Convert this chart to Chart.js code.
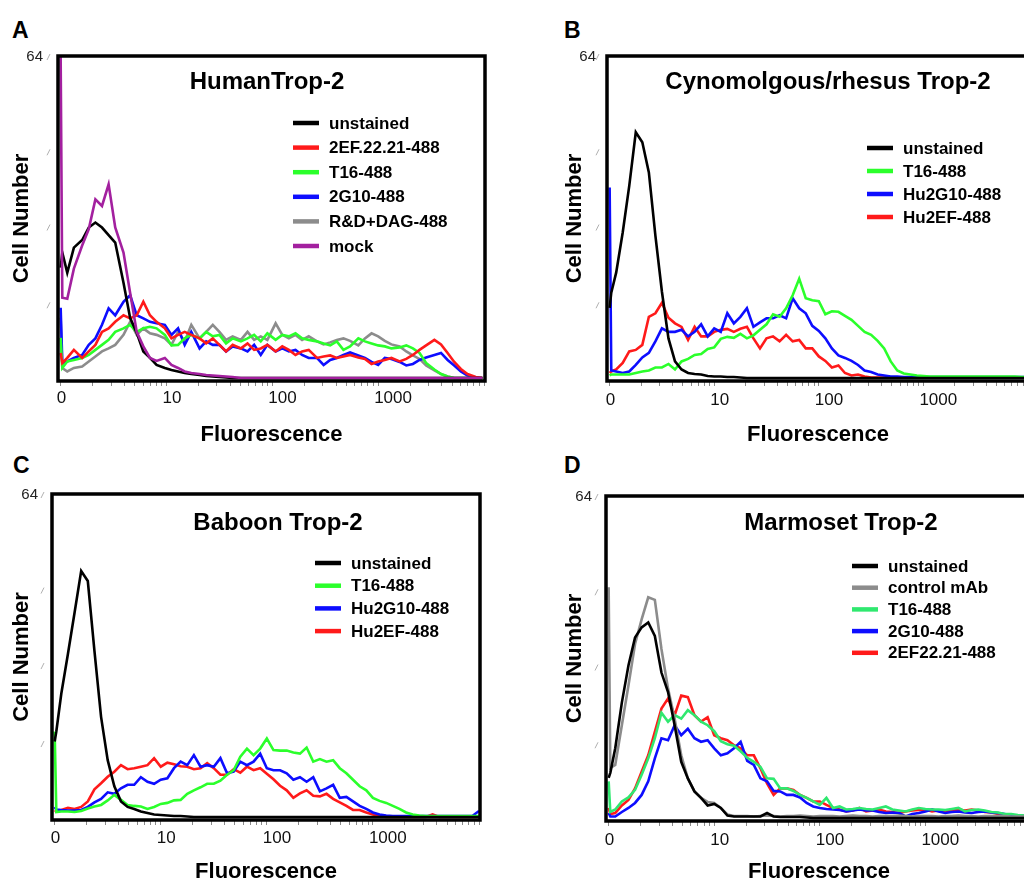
<!DOCTYPE html>
<html>
<head>
<meta charset="utf-8">
<title>Trop-2 flow cytometry</title>
<script src="https://cdn.jsdelivr.net/npm/chart.js@4.4.1/dist/chart.umd.min.js"></script>
<style>
  html, body { margin: 0; padding: 0; background: #fff; }
  body { width: 1024px; height: 881px; overflow: hidden; position: relative; font-family: "Liberation Sans", Arial, sans-serif; }
  canvas { position: absolute; }
  .tag { position: absolute; font-weight: bold; font-size: 23px; line-height: 22px; color: #000; }
</style>
</head>
<body>
<div class="tag" style="left:12px;top:19px">A</div>
<div class="tag" style="left:564px;top:19px">B</div>
<div class="tag" style="left:13px;top:454px">C</div>
<div class="tag" style="left:564px;top:454px">D</div>
<canvas id="panelA" width="512" height="450" style="left:0px;top:0px"></canvas>
<canvas id="panelB" width="507" height="450" style="left:549px;top:0px"></canvas>
<canvas id="panelC" width="513" height="450" style="left:-6px;top:440px"></canvas>
<canvas id="panelD" width="511" height="450" style="left:548px;top:440px"></canvas>
<script>
Chart.defaults.font.family = '"Liberation Sans", Arial, sans-serif';
var FONT = Chart.defaults.font.family;

// x = cytometer channel, 64 channels per decade (0 .. 10^4)
var chA = [0, 1, 4, 8, 13, 17, 21, 25, 29, 33, 38, 42, 46, 50, 54, 58, 63, 67, 71, 75, 79,
  84, 88, 92, 96, 100, 104, 109, 113, 117, 121, 125, 130, 134, 138, 142, 146, 150, 155, 159,
  163, 167, 171, 175, 180, 184, 188, 192, 196, 200, 205, 209, 213, 217, 221, 226, 230, 234,
  238, 242, 246, 251, 255];
var chGrid = [0, 1, 4, 8, 12, 16, 20, 24, 28, 32, 36, 40, 44, 48, 52, 56, 60, 64, 68, 72, 76,
  80, 84, 88, 92, 96, 100, 104, 108, 112, 116, 120, 124, 128, 132, 136, 140, 144, 148, 152,
  156, 160, 164, 168, 172, 176, 180, 184, 188, 192, 196, 200, 204, 208, 212, 216, 220, 224,
  228, 232, 236, 240, 244, 248, 252, 256];

var xMajor = [0, 64, 128, 192];
var xTickLabels = ['0', '10', '100', '1000'];
var yTicks = [64];
var yTickLabels = ['64'];
var yMarks = [14.5, 30, 45, 64];

// A - HumanTrop-2
var aUnstained = [22, 25,
  21, 26, 27.5, 30, 31, 30, 28.5, 27, 19, 12,
  9, 5.3, 4, 2.6, 2, 1.6, 1.3, 1, 0.8, 0.6,
  0.4, 0.3, 0.2, 0.1, 0, 0, 0, 0, 0, 0,
  0, 0, 0, 0, 0, 0, 0, 0, 0, 0,
  0, 0, 0, 0, 0, 0, 0, 0, 0, 0,
  0, 0, 0, 0, 0, 0, 0, 0, 0, 0,
  0];
var a2EF = [5, 3,
  4, 5.6, 4, 5.3, 6.6, 9.2, 9.9, 11.2, 12.5, 11.9,
  12.5, 15.2, 12.5, 11.2, 9.9, 7.9, 8.6, 9.2, 8.6, 7.9,
  6.9, 7.9, 6.6, 5.3, 6.6, 5.9, 6.9, 5.6, 5.9, 6.6,
  5.3, 6.3, 5.6, 4.6, 5.3, 5.6, 4, 4.3, 4.5, 4,
  4.3, 4.6, 4.1, 3.8, 2.8, 3.3, 3.6, 4, 3.3, 3.8,
  4.6, 5.6, 6.5, 7.6, 6.7, 5, 3.2, 1.8, 0.8, 0.2,
  0];
var aT16 = [8, 2,
  3.3, 3.6, 4, 4.6, 5.6, 6.6, 7.6, 9.2, 9.9, 10.6,
  9.2, 9.9, 10.2, 9.9, 8.6, 6.5, 6.6, 7.9, 8.6, 7.9,
  9.2, 8.3, 8.6, 6.9, 7.9, 7.3, 7.9, 8.6, 7.3, 8.9,
  7.6, 8.6, 8.3, 8.9, 7.9, 7.6, 7.3, 6.9, 6.5, 7.3,
  5.6, 6.3, 7.9, 7.3, 6.9, 6.5, 6.3, 5.9, 6.1, 6.5,
  5.9, 5, 3, 1.7, 0.8, 0.3, 0, 0, 0, 0,
  0];
var a2G10 = [14, 3,
  3.3, 4, 4.6, 6.6, 7.9, 10.6, 13.9, 12.5, 15.2, 16.5,
  12.5, 11.9, 11.2, 10.9, 10.6, 8.6, 9.9, 6.6, 9.2, 5.9,
  7.3, 6.6, 6.6, 5.3, 6.3, 5.9, 5.3, 6.6, 4.6, 6.6,
  5.3, 5.9, 5.3, 5.6, 4.6, 4, 4, 2.6, 3.6, 4,
  4.6, 5.1, 4.5, 4, 3.2, 2.6, 4, 3.8, 3.2, 2.5,
  2.8, 3.6, 4.1, 4.6, 5, 3.6, 2.5, 1.3, 0.5, 0.1,
  0];
var aRnD = [12, 2,
  1.3, 2, 2.3, 3.3, 4.3, 5.3, 5.9, 6.6, 8.6, 11.2,
  8.6, 9.9, 8.9, 8.6, 7.9, 6.6, 9.2, 7.3, 10.6, 7.9,
  9.2, 10.6, 9.2, 7.6, 8.3, 7.6, 9.2, 7.6, 8.3, 7.6,
  10.9, 8.6, 7.9, 8.6, 7.6, 8.3, 7.3, 6.7, 7.1, 7.6,
  7.9, 7.4, 6.5, 7.9, 8.9, 8.3, 7.4, 6.7, 6.3, 5.3,
  4.5, 3.8, 2.5, 1.5, 0.8, 0.3, 0, 0, 0, 0,
  0];
var aMock = [64, 16,
  15.8, 21.8, 26.4, 29.7, 35.6, 34.3, 38.6, 30, 25, 17,
  9.2, 6.3, 4, 3.4, 4, 2.6, 2, 1.3, 1, 0.8,
  0.6, 0.5, 0.4, 0.3, 0.2, 0, 0, 0, 0, 0,
  0, 0, 0, 0, 0, 0, 0, 0, 0, 0,
  0, 0, 0, 0, 0, 0, 0, 0, 0, 0,
  0, 0, 0, 0, 0, 0, 0, 0, 0, 0,
  0];

// B - Cynomolgous/rhesus Trop-2
var bUnstained = [14, 17,
  21, 29, 38.3, 49, 47, 41, 28.4, 17.2, 7.9, 3.3,
  1.7, 1, 0.8, 0.7, 0.4, 0.3, 0.3, 0.2, 0.2, 0.1,
  0, 0, 0, 0, 0, 0, 0, 0, 0, 0,
  0, 0, 0, 0, 0, 0, 0, 0, 0, 0,
  0, 0, 0, 0, 0, 0, 0, 0, 0, 0,
  0, 0, 0, 0, 0, 0, 0, 0, 0, 0,
  0, 0, 0, 0];
var bT16 = [0.5, 0.7,
  0.7, 0.7, 0.7, 1, 1.3, 1.5, 2.1, 2.1, 2.8, 1.7,
  3.3, 3.8, 4.6, 4.8, 5.8, 6.1, 7.8, 8.2, 8, 8.8,
  7.9, 8.5, 9.6, 10.7, 12.7, 12.2, 13.9, 16.5, 19.8, 15.9,
  15.5, 15.3, 12.7, 13.3, 13.2, 12.4, 11.6, 10.4, 9.2, 8.6,
  7.4, 5.9, 3.3, 1.5, 0.9, 0.7, 0.5, 0.4, 0.3, 0.3,
  0.3, 0.3, 0.3, 0.3, 0.3, 0.3, 0.3, 0.3, 0.3, 0.3,
  0.3, 0.3, 0.2, 0.2];
var bHu2G10 = [38, 1.5,
  1.3, 1, 1.3, 2.6, 4.1, 5, 7.3, 9.9, 9.2, 9.2,
  9.6, 8.3, 9.2, 10.7, 8.3, 9.9, 9.2, 12.9, 10.9, 12.2,
  13.9, 10.2, 11.1, 11.9, 11.9, 12.5, 11.9, 15.9, 13.9, 12.9,
  10.4, 9.4, 7.9, 5.9, 4.5, 4, 3.4, 2.6, 1.5, 1.2,
  0.7, 0.5, 0.3, 0.3, 0.2, 0.2, 0.2, 0.2, 0.2, 0.2,
  0.2, 0.2, 0.2, 0.2, 0.2, 0.2, 0.2, 0.2, 0.2, 0.2,
  0.2, 0.2, 0.2, 0.2];
var bHu2EF = [1, 1.3,
  1.7, 3, 5.3, 5.6, 6.6, 12.2, 12.9, 15, 12, 10.9,
  10.2, 7.6, 10.2, 8.3, 8.3, 9.2, 9.6, 9.8, 9.2, 9.8,
  10.2, 7.9, 5.9, 7.9, 8.3, 7.3, 8.6, 7.3, 7.6, 5.9,
  5.9, 4.3, 3.4, 2.1, 2.5, 1, 0.5, 0.7, 0.3, 0.1,
  0.1, 0.1, 0.1, 0.1, 0.1, 0.1, 0.1, 0.1, 0.1, 0.1,
  0.1, 0.1, 0.1, 0.1, 0.1, 0.1, 0.1, 0.1, 0.1, 0.1,
  0.1, 0.1, 0.1, 0.1];

// C - Baboon Trop-2
var cUnstained = [15, 17,
  24.5, 32.4, 40.6, 48.9, 46.9, 33, 19.9, 11.3, 6.1, 3.1,
  2, 1.6, 1.1, 0.8, 0.5, 0.4, 0.3, 0.2, 0.2, 0.1,
  0, 0, 0, 0, 0, 0, 0, 0, 0, 0,
  0, 0, 0, 0, 0, 0, 0, 0, 0, 0,
  0, 0, 0, 0, 0, 0, 0, 0, 0, 0,
  0, 0, 0, 0, 0, 0, 0, 0, 0, 0,
  0, 0, 0, 0];
var cT16 = [17, 1,
  1.1, 1.1, 1, 1.2, 1.7, 2.1, 2.4, 3.3, 4.4, 3.4,
  2.4, 2.2, 2.1, 1.6, 2, 2.6, 2.8, 3.3, 3.4, 4.6,
  5.3, 5.9, 6.6, 6.6, 7.2, 8.4, 9.3, 12, 13.6, 12.3,
  13.6, 15.6, 13.3, 13.2, 13.2, 12.8, 12.6, 13.8, 11, 11.5,
  11, 11.3, 9.7, 8.7, 7.4, 6.1, 5.3, 3.8, 3.2, 2.8,
  2.2, 1.6, 0.9, 0.5, 0.3, 0.2, 0.2, 0.2, 0.2, 0.2,
  0.2, 0.2, 0.2, 0.2];
var cHu2G10 = [2, 1.5,
  1.4, 1.3, 1.3, 1.4, 2, 2.9, 3.6, 4.9, 4.6, 5.7,
  6.4, 6.4, 7.9, 7, 6.6, 7.4, 7.7, 9.7, 11, 10.3,
  12.3, 10, 10.3, 10, 11.7, 8.7, 9, 11, 10.3, 11,
  12.6, 9.7, 9.3, 9.3, 8.7, 7.4, 7.9, 7, 7.9, 5.1,
  5.7, 6.4, 3.8, 4, 3.1, 2.2, 1.6, 0.9, 0.5, 0.3,
  0.2, 0.2, 0.2, 0.2, 0.2, 0.2, 0.2, 0.2, 0.2, 0.2,
  0.2, 0.2, 0.2, 1.2];
var cHu2EF = [1, 1.2,
  1.4, 1.8, 1.6, 2, 3.1, 5.5, 6.7, 8, 9, 10.3,
  9.5, 9.7, 10, 10.3, 11.7, 10, 10.8, 10.5, 10.1, 10,
  9.5, 9.7, 10.7, 9.7, 8.4, 8.4, 9.5, 8.8, 10, 9.3,
  9.7, 8.6, 7.5, 6.2, 5.3, 3.8, 4.7, 5.3, 4.2, 4.1,
  4.6, 3.6, 2.9, 2.2, 1.4, 1.4, 0.9, 0.5, 0.2, 0,
  0, 0, 0, 0, 0, 0, 0.5, 0, 0, 0,
  0, 0, 0, 0];

// D - Marmoset Trop-2
var dUnstained = [8, 9,
  13.9, 23, 30.4, 36, 38, 39, 36.3, 29, 25.1, 18.5,
  11.2, 7.9, 5.3, 4, 2.5, 2.8, 2, 0.5, 0.3, 0.3,
  0.3, 0.3, 0.3, 1, 0.3, 0.2, 0.2, 0.2, 0.2, 0.1,
  0, 0, 0, 0, 0, 0, 0, 0, 0, 0,
  0, 0, 0, 0, 0, 0, 0, 0, 0, 0,
  0, 0, 0, 0, 0, 0, 0, 0, 0, 0,
  0, 0, 0, 0];
var dControl = [46, 10,
  10.6, 18.5, 26.4, 34.7, 39.6, 44, 43.5, 33.7, 25.8, 19.8,
  12.5, 7.9, 5.3, 4, 3.2, 3, 2, 0.7, 0.4, 0.4,
  0.4, 0.3, 0.4, 0.5, 0.4, 0.3, 0.4, 0.4, 0.5, 0.4,
  0.3, 0.4, 0.4, 0.4, 0.3, 0.4, 0.5, 0.4, 0.4, 0.3,
  0.4, 0.4, 0.4, 0.5, 0.4, 0.3, 0.4, 0.4, 0.4, 0.3,
  0.4, 0.4, 0.5, 0.4, 0.4, 0.3, 0.4, 0.4, 0.4, 0.4,
  0.3, 0.3, 0.3, 0.3];
var dT16 = [7.3, 1.2,
  1.7, 3.3, 4.1, 5.6, 8.6, 11.9, 15.9, 21, 19.2, 20.5,
  19.8, 21.5, 20.5, 19.2, 18.5, 17.3, 15.3, 14.7, 14.4, 13.3,
  12, 11.2, 10.2, 7.9, 7.8, 5.9, 5.9, 5.4, 4.6, 4,
  3.3, 2.6, 4, 2, 2.3, 1.7, 1.8, 2, 1.8, 1.7,
  2, 2.3, 1.7, 1.5, 1.3, 1.7, 2, 1.8, 1.7, 1.7,
  1.6, 1.8, 2, 1.3, 1.6, 1.7, 1.5, 1.2, 1.1, 0.8,
  0.8, 0.6, 0.5, 0.5];
var d2G10 = [1, 0.3,
  0.3, 1.2, 2, 3, 4.6, 7.3, 11.9, 15.9, 15.5, 18.5,
  16.5, 17.8, 15.9, 15.2, 15.5, 13.9, 12.5, 12.9, 13.9, 15.2,
  11.4, 10.6, 7.9, 7.3, 5.4, 5.3, 4.6, 4.6, 4.1, 3,
  2.3, 2, 1.8, 1.7, 1.6, 1.3, 1.5, 1.7, 1.5, 1.5,
  1.2, 1, 1.1, 1, 0.3, 0.8, 1, 1.3, 1.7, 1.3,
  1, 1.2, 1.3, 1.1, 1, 1.2, 1.3, 1.1, 1, 0.8,
  0.5, 0.4, 0.4, 0.4];
var d2EF = [2, 0.8,
  1, 2.5, 3.6, 5.9, 9.2, 12.5, 17.2, 21.8, 23.8, 20.5,
  24.4, 24.1, 20.5, 19.2, 20.1, 16.5, 15.9, 15.5, 14.5, 13.9,
  12.5, 12.5, 9.9, 6.9, 4.6, 5.9, 5.9, 5.6, 4.6, 4,
  3.3, 3.3, 2.6, 2, 1.7, 1.3, 1.5, 2, 1.3, 1.5,
  1.7, 1.3, 1.2, 1, 1.3, 1.5, 1.6, 1.7, 1.3, 1.5,
  1.3, 1.6, 1.7, 1.5, 1.7, 1.5, 1.2, 1.1, 0.8, 0.7,
  0.5, 0.5, 0.4, 0.4];

// log axis: ticks at 1..9 of every decade, the first decade is labelled 0
function logTicks() {
  var t = [];
  for (var d = 0; d < 4; d++) {
    for (var k = 1; k < 10; k++) t.push(64 * (d + Math.log10(k)));
  }
  t.push(256);
  return t;
}

// frame, y tick marks, panel title and legend drawn inside the plot box
var panelDeco = {
  id: 'panelDeco',
  afterDatasetsDraw: function (chart, args, o) {
    var ctx = chart.ctx, a = chart.chartArea, y = chart.scales.y;
    ctx.save();
    ctx.strokeStyle = '#000';
    ctx.lineWidth = 3.5;
    ctx.strokeRect(a.left - 1, a.top - 1, a.right - a.left + 2, a.bottom - a.top + 2);

    ctx.strokeStyle = '#b0b0b0';
    ctx.lineWidth = 1;
    yMarks.forEach(function (v) {
      var py = y.getPixelForValue(v);
      ctx.beginPath();
      ctx.moveTo(a.left - 12, py + 3);
      ctx.lineTo(a.left - 9, py - 3);
      ctx.stroke();
    });

    ctx.fillStyle = '#000';
    ctx.textBaseline = 'middle';
    ctx.textAlign = 'center';
    ctx.font = 'bold 24px ' + FONT;
    ctx.fillText(o.title, a.left + o.titleX, a.top + o.titleY);

    ctx.textAlign = 'left';
    ctx.font = 'bold 17px ' + FONT;
    chart.data.datasets.forEach(function (ds, i) {
      var ly = a.top + o.legY + i * o.legGap;
      ctx.strokeStyle = ds.borderColor;
      ctx.lineWidth = 4.5;
      ctx.beginPath();
      ctx.moveTo(a.left + o.legX, ly);
      ctx.lineTo(a.left + o.legX + 26, ly);
      ctx.stroke();
      ctx.fillText(ds.label, a.left + o.legX + 36, ly + 1);
    });
    ctx.restore();
  }
};

function drawPanel(p, xs, sets) {
  return new Chart(document.getElementById(p.id), {
    type: 'line',
    data: {
      datasets: sets.map(function (s) {
        return {
          label: s.label,
          data: xs.map(function (c, i) { return { x: c, y: s.values[i] }; }),
          borderColor: s.color,
          borderWidth: 2.6,
          pointRadius: 0,
          tension: 0,
          order: s.order || 0
        };
      })
    },
    options: {
      responsive: false,
      animation: false,
      events: [],
      layout: { padding: { top: p.padTop, right: 28, bottom: 0, left: 0 } },
      plugins: {
        legend: { display: false },
        tooltip: { enabled: false },
        panelDeco: p.deco
      },
      scales: {
        x: {
          type: 'linear',
          min: -1,
          max: 256,
          afterBuildTicks: function (s) { s.ticks = logTicks().map(function (v) { return { value: v }; }); },
          afterFit: function (s) { s.height = p.xHeight; },
          border: { display: false },
          grid: { drawOnChartArea: false, drawTicks: true, tickLength: 6, color: '#8a8a8a' },
          ticks: {
            autoSkip: false, maxRotation: 0, minRotation: 0,
            align: 'start', labelOffset: -4, padding: p.xTickPad,
            color: '#111', font: { size: 17 },
            callback: function (v) { var i = xMajor.indexOf(v); return i < 0 ? '' : xTickLabels[i]; }
          },
          title: {
            display: true, text: 'Fluorescence', color: '#000',
            font: { size: 22, weight: 'bold' },
            padding: { top: 0, bottom: p.xTitlePad }
          }
        },
        y: {
          min: -0.4,
          max: 64,
          afterBuildTicks: function (s) { s.ticks = yTicks.map(function (v) { return { value: v }; }); },
          afterFit: function (s) { s.width = 59; },
          border: { display: false },
          grid: { display: false, drawTicks: false },
          ticks: {
            padding: p.yLabelPad, color: '#222', font: { size: 15 },
            callback: function (v) { var i = yTicks.indexOf(v); return i < 0 ? '' : yTickLabels[i]; }
          },
          title: {
            display: true, text: 'Cell Number', color: '#000',
            font: { size: 22, weight: 'bold' },
            padding: { top: p.yTitlePad, bottom: 0 }
          }
        }
      }
    },
    plugins: [panelDeco]
  });
}

var RED = '#ff1a1a', GREEN = '#2bff2b', BLUE = '#0d0dff', BLACK = '#000000',
    GRAY = '#8c8c8c', PURPLE = '#a3209f', MINT = '#2fe86f';

drawPanel(
  { id: 'panelA', padTop: 57, xHeight: 70, xTickPad: 2, xTitlePad: 2, yLabelPad: 16, yTitlePad: 9,
    deco: { title: 'HumanTrop-2', titleX: 208, titleY: 25, legX: 234, legY: 66, legGap: 24.6 } },
  chA,
  [
    { label: 'unstained', values: aUnstained, color: BLACK },
    { label: '2EF.22.21-488', values: a2EF, color: RED },
    { label: 'T16-488', values: aT16, color: GREEN },
    { label: '2G10-488', values: a2G10, color: BLUE },
    { label: 'R&D+DAG-488', values: aRnD, color: GRAY },
    { label: 'mock', values: aMock, color: PURPLE, order: -1 }
  ]
);

drawPanel(
  { id: 'panelB', padTop: 57, xHeight: 70, xTickPad: 4, xTitlePad: 2, yLabelPad: 12, yTitlePad: 13,
    deco: { title: 'Cynomolgous/rhesus Trop-2', titleX: 220, titleY: 25, legX: 259, legY: 91, legGap: 23 } },
  chGrid,
  [
    { label: 'unstained', values: bUnstained, color: BLACK },
    { label: 'T16-488', values: bT16, color: GREEN },
    { label: 'Hu2G10-488', values: bHu2G10, color: BLUE },
    { label: 'Hu2EF-488', values: bHu2EF, color: RED }
  ]
);

drawPanel(
  { id: 'panelC', padTop: 55, xHeight: 71, xTickPad: 3, xTitlePad: 5, yLabelPad: 15, yTitlePad: 15,
    deco: { title: 'Baboon Trop-2', titleX: 225, titleY: 28, legX: 262, legY: 68, legGap: 22.7 } },
  chGrid,
  [
    { label: 'unstained', values: cUnstained, color: BLACK },
    { label: 'T16-488', values: cT16, color: GREEN },
    { label: 'Hu2G10-488', values: cHu2G10, color: BLUE },
    { label: 'Hu2EF-488', values: cHu2EF, color: RED }
  ]
);

drawPanel(
  { id: 'panelD', padTop: 57, xHeight: 70, xTickPad: 4, xTitlePad: 5, yLabelPad: 15, yTitlePad: 14,
    deco: { title: 'Marmoset Trop-2', titleX: 234, titleY: 26, legX: 245, legY: 69, legGap: 21.7 } },
  chGrid,
  [
    { label: 'unstained', values: dUnstained, color: BLACK },
    { label: 'control mAb', values: dControl, color: GRAY },
    { label: 'T16-488', values: dT16, color: MINT },
    { label: '2G10-488', values: d2G10, color: BLUE },
    { label: '2EF22.21-488', values: d2EF, color: RED }
  ]
);
</script>
</body>
</html>
